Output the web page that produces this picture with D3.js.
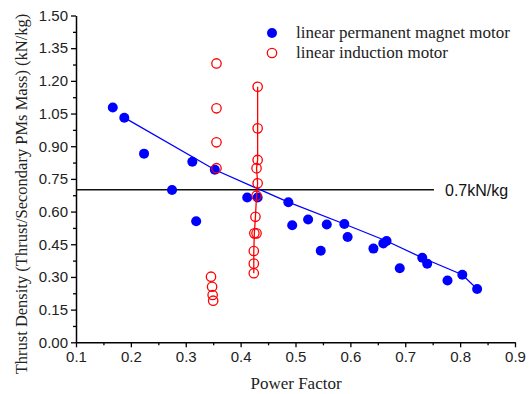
<!DOCTYPE html>
<html>
<head>
<meta charset="utf-8">
<script src="https://cdn.jsdelivr.net/npm/d3@7"></script>
<style>
  body { margin: 0; background: #fff; }
</style>
</head>
<body>
<svg id="chart" width="531" height="394"></svg>
<script>
// linear permanent magnet motor (filled blue)
var pmPowerFactor = [0.167, 0.188, 0.224, 0.312, 0.353, 0.275, 0.319, 0.412, 0.431, 0.487, 0.494, 0.523, 0.546, 0.557, 0.589, 0.595, 0.642, 0.660, 0.666, 0.690, 0.731, 0.740, 0.777, 0.804, 0.831]
var pmThrust = [1.078, 1.031, 0.866, 0.829, 0.792, 0.699, 0.556, 0.665, 0.665, 0.643, 0.537, 0.564, 0.420, 0.541, 0.543, 0.483, 0.430, 0.454, 0.465, 0.340, 0.388, 0.361, 0.284, 0.310, 0.245]

// blue line through the upper points
var pmLineX = [0.188, 0.353, 0.487, 0.589, 0.666, 0.731, 0.804, 0.831]
var pmLineY = [1.031, 0.792, 0.643, 0.543, 0.465, 0.388, 0.310, 0.245]

// linear induction motor (open red)
var imPowerFactor = [0.356, 0.356, 0.356, 0.356, 0.346, 0.348, 0.349, 0.350,
    0.431, 0.431, 0.431, 0.429, 0.431, 0.429, 0.427, 0.425, 0.429, 0.424, 0.424, 0.424]
var imThrust = [1.280, 1.074, 0.918, 0.799, 0.301, 0.255, 0.217, 0.191,
    1.173, 0.982, 0.837, 0.799, 0.730, 0.673, 0.576, 0.500, 0.500, 0.419, 0.361, 0.317]

// red line through the column at pf ~0.43
var imLineX = [0.431, 0.431, 0.431, 0.429, 0.431, 0.429, 0.427, 0.425, 0.424, 0.424, 0.424]
var imLineY = [1.173, 0.982, 0.837, 0.799, 0.730, 0.673, 0.576, 0.500, 0.419, 0.361, 0.317]

var refLevel = 0.7
var refLabel = "0.7kN/kg"
var xTicks = [0.1, 0.2, 0.3, 0.4, 0.5, 0.6, 0.7, 0.8, 0.9]
var yTicks = [0.00, 0.15, 0.30, 0.45, 0.60, 0.75, 0.90, 1.05, 1.20, 1.35, 1.50]
var legendLabels = ["linear permanent magnet motor", "linear induction motor"]

var svg = d3.select("#chart")
var plotLeft = 76, plotRight = 515, plotTop = 15.5, plotBottom = 342.3

var x = d3.scaleLinear().domain([0.1, 0.9]).range([plotLeft, plotRight])
var y = d3.scaleLinear().domain([0, 1.5]).range([plotBottom, plotTop])

var sans = "'Liberation Sans', Arial, sans-serif"
var serif = "'Liberation Serif', 'Times New Roman', serif"

// minor ticks first, then main axes
var xMinor = d3.range(0.15, 0.9, 0.1)
var yMinor = d3.range(0.075, 1.5, 0.15)

svg.append("g")
    .attr("transform", "translate(0," + plotBottom + ")")
    .call(d3.axisBottom(x).tickValues(xMinor).tickSize(3).tickFormat(""))
    .call(function(g){ g.select(".domain").remove() })
    .selectAll("line").attr("stroke-width", 1.3)

svg.append("g")
    .attr("transform", "translate(" + plotLeft + ",0)")
    .call(d3.axisLeft(y).tickValues(yMinor).tickSize(3).tickFormat(""))
    .call(function(g){ g.select(".domain").remove() })
    .selectAll("line").attr("stroke-width", 1.3)

var xAxis = svg.append("g")
    .attr("transform", "translate(0," + plotBottom + ")")
    .call(d3.axisBottom(x).tickValues(xTicks).tickSize(5).tickSizeOuter(0).tickPadding(4).tickFormat(d3.format(".1f")))
xAxis.select(".domain").attr("stroke-width", 1.5)
xAxis.selectAll("line").attr("stroke-width", 1.3)
xAxis.selectAll("text")
    .style("font-family", sans)
    .style("font-size", "15px")
    .attr("fill", "#222")

var yAxis = svg.append("g")
    .attr("transform", "translate(" + plotLeft + ",0)")
    .call(d3.axisLeft(y).tickValues(yTicks).tickSize(5).tickSizeOuter(0).tickPadding(3).tickFormat(d3.format(".2f")))
yAxis.select(".domain").attr("stroke-width", 1.5)
yAxis.selectAll("line").attr("stroke-width", 1.3)
yAxis.selectAll("text")
    .style("font-family", sans)
    .style("font-size", "15px")
    .attr("fill", "#222")

// axis titles
svg.append("text")
    .attr("x", 296)
    .attr("y", 389)
    .attr("text-anchor", "middle")
    .style("font-family", serif)
    .style("font-size", "17px")
    .attr("fill", "#222")
    .text("Power Factor")

svg.append("text")
    .attr("transform", "translate(27," + 194 + ") rotate(-90)")
    .attr("text-anchor", "middle")
    .style("font-family", serif)
    .style("font-size", "16.5px")
    .attr("fill", "#222")
    .text("Thrust Density (Thrust/Secondary PMs Mass) (kN/kg)")

// 0.7 kN/kg reference line
svg.append("line")
    .attr("x1", x(0.1))
    .attr("x2", 434)
    .attr("y1", y(refLevel))
    .attr("y2", y(refLevel))
    .attr("stroke", "#111")
    .attr("stroke-width", 1.6)

svg.append("text")
    .attr("x", 445)
    .attr("y", y(refLevel) + 6)
    .style("font-family", sans)
    .style("font-size", "16px")
    .attr("fill", "#111")
    .text(refLabel)

var line = d3.line()
    .x(function(d){ return x(d[0]) })
    .y(function(d){ return y(d[1]) })

var pmData = pmPowerFactor.map(function(d, i){ return [d, pmThrust[i]] })
var imData = imPowerFactor.map(function(d, i){ return [d, imThrust[i]] })

svg.append("path")
    .datum(pmLineX.map(function(d, i){ return [d, pmLineY[i]] }))
    .attr("d", line)
    .attr("fill", "none")
    .attr("stroke", "#0000ff")
    .attr("stroke-width", 1.3)

svg.append("g")
    .selectAll("circle")
    .data(pmData)
    .enter()
    .append("circle")
    .attr("cx", function(d){ return x(d[0]) })
    .attr("cy", function(d){ return y(d[1]) })
    .attr("r", 5)
    .attr("fill", "#0000ff")

svg.append("path")
    .datum(imLineX.map(function(d, i){ return [d, imLineY[i]] }))
    .attr("d", line)
    .attr("fill", "none")
    .attr("stroke", "#ff0000")
    .attr("stroke-width", 1.3)

svg.append("g")
    .selectAll("circle")
    .data(imData)
    .enter()
    .append("circle")
    .attr("cx", function(d){ return x(d[0]) })
    .attr("cy", function(d){ return y(d[1]) })
    .attr("r", 4.7)
    .attr("fill", "none")
    .attr("stroke", "#ff0000")
    .attr("stroke-width", 1.3)

// legend
var legend = svg.append("g").attr("transform", "translate(272,33)")
legend.append("circle").attr("cx", 0).attr("cy", 0).attr("r", 5).attr("fill", "#0000ff")
legend.append("circle").attr("cx", 0).attr("cy", 20).attr("r", 4.7)
    .attr("fill", "none").attr("stroke", "#ff0000").attr("stroke-width", 1.3)
legend.selectAll("text")
    .data(legendLabels)
    .enter()
    .append("text")
    .attr("x", 24)
    .attr("y", function(d, i){ return i * 20 + 5 })
    .style("font-family", serif)
    .style("font-size", "17px")
    .attr("fill", "#222")
    .text(function(d){ return d })
</script>
</body>
</html>
